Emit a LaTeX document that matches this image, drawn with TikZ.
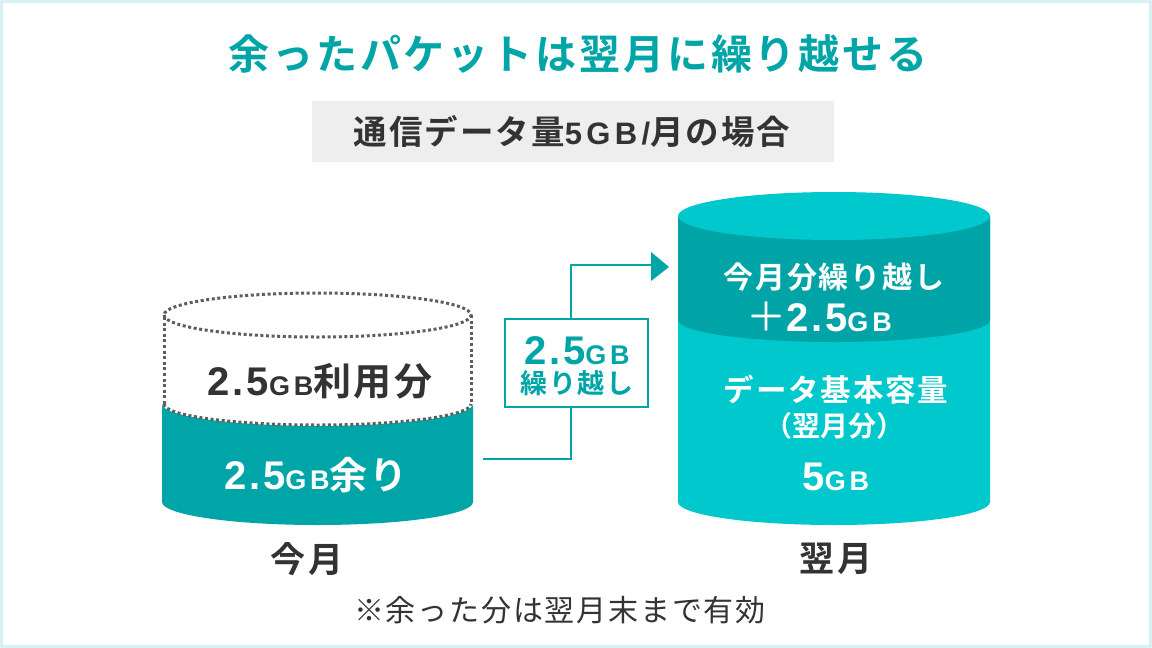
\documentclass[tikz,border=0pt]{standalone}
\usepackage{fontspec}
\setmainfont{Noto Sans CJK JP}[BoldFont={* Bold}]
\newfontfamily\spa{Noto Sans CJK JP}[LetterSpace=6,BoldFont={* Bold}]
\newfontfamily\spw{Noto Sans CJK JP}[LetterSpace=7,BoldFont={* Bold}]
\newfontfamily\lat{Liberation Sans}[LetterSpace=7]
\newfontfamily\latw{Liberation Sans}[LetterSpace=14]
\newcommand{\fs}[1]{\fontsize{#1}{#1}\selectfont}
\newcommand{\bignum}[1]{{\lat\fs{40}#1}}
\newcommand{\gb}{{\latw\fs{27}GB}}
\definecolor{teal1}{HTML}{00A5A7}
\definecolor{teal2}{HTML}{00C8CC}
\definecolor{teal3}{HTML}{00A3A6}
\definecolor{ink}{HTML}{333333}
\definecolor{rim}{HTML}{D6F2F4}
\definecolor{panel}{HTML}{EEEEEE}
\definecolor{dots}{HTML}{5E5E5E}
\tikzset{
  lab/.style={inner sep=0pt,font=\bfseries,align=center},
  wlab/.style={lab,text=white},
  dlab/.style={lab,text=ink},
  flow/.style={draw=teal1,line width=1.4pt},
  dot/.style={draw=dots,line width=3pt,dash pattern=on 3pt off 2.6pt}
}
\begin{document}
\begin{tikzpicture}[x=1pt,y=-1pt]
\useasboundingbox (0,0) rectangle (1152,648);
\fill[white] (0,0) rectangle (1152,648);
\draw[rim,line width=3pt] (1.5,1.5) rectangle (1150.5,646.5);
% title
\node[lab,text=teal1] (title) at (578,54) {\fs{41}\spw 余ったパケットは翌月に繰り越せる};
\node[fill=panel,minimum width=522pt,minimum height=61pt,inner sep=0pt] (sub) at (573,131.5) {};
\node[dlab] (subt) at (572,131.5) {\fs{33.5}\spa 通信データ量{\latw\fs{31}5GB/}月の場合};
% left cylinder
\fill[teal1] (162,404) arc[start angle=180,end angle=0,x radius=155.5,y radius=22]
  -- (473,502) arc[start angle=0,end angle=180,x radius=155.5,y radius=23] -- cycle;
\draw[dot] (164,404) -- (164,315) (471,315) -- (471,404);
\draw[dot] (164,315) arc[start angle=180,end angle=-180,x radius=153.5,y radius=22];
\draw[dot] (164,404) arc[start angle=180,end angle=0,x radius=153.5,y radius=21];
% right cylinder
\fill[teal2] (678,216) -- (678,502) arc[start angle=180,end angle=0,x radius=156,y radius=23] -- (990,216) -- cycle;
\fill[teal3] (678,216) -- (678,320) arc[start angle=180,end angle=0,x radius=156,y radius=22] -- (990,216) -- cycle;
\fill[teal2] (834,216) ellipse[x radius=156,y radius=24];
% left labels
\node[dlab] (used) at (320,381) {\bignum{2.5}\gb{\fs{38}\spa 利用分}};
\node[wlab] (left) at (316,475) {\bignum{2.5}\gb{\fs{38}\spa 余り}};
\node[dlab] (m1) at (307,559) {\fs{35}\spa 今月};
% right labels
\node[wlab] (c1) at (834,277) {\fs{30}\spa 今月分繰り越し};
\node[wlab] (c2) at (819,317) {{\fs{40}\mdseries ＋}\bignum{2.5}\gb};
\node[wlab] (c3) at (836,390) {\fs{30.5}\spa データ基本容量};
\node[wlab] (c4) at (834,426) {\fs{28}（翌月分）};
\node[wlab] (c5) at (836,477) {\bignum{5}\gb};
\node[dlab] (m2) at (836,559) {\fs{35}\spa 翌月};
\node[lab,text=ink,font=\mdseries] (note) at (560,610) {\fs{30}\spa ※余った分は翌月末まで有効};
% connector
\node[flow,fill=white,minimum width=143pt,minimum height=88pt,inner sep=0pt] (box) at (576.5,363) {};
\node[lab,text=teal1] (b1) at (577,351) {\bignum{2.5}\gb};
\node[lab,text=teal1] (b2) at (577,383) {\fs{27}\spa 繰り越し};
\coordinate (src) at (483,459);
\coordinate (dst) at (651,265);
\coordinate (boxlow) at (571,407);
\coordinate (boxup) at (571,319);
\draw[flow] (src) -- (571,459) -- (boxlow);
\draw[flow] (boxup) -- (571,265) -- (dst);
\fill[teal1] (651,252) -- (669,267) -- (651,281) -- cycle;
\end{tikzpicture}
\end{document}
